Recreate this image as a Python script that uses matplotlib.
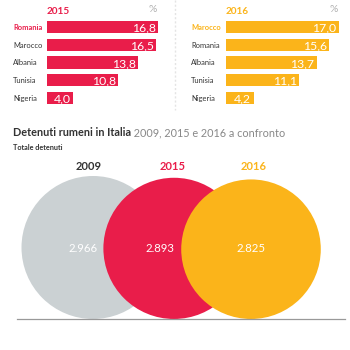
import matplotlib
matplotlib.use("Agg")
import matplotlib.pyplot as plt
from matplotlib.patches import Circle
from matplotlib.transforms import blended_transform_factory
import numpy as np

plt.rcParams['font.family'] = ['Lato', 'DejaVu Sans']

# ---- data ----
cats_2015 = ["Romania", "Marocco", "Albania", "Tunisia", "Nigeria"]
vals_2015 = [16.8, 16.5, 13.8, 10.8, 4.0]
cats_2016 = ["Marocco", "Romania", "Albania", "Tunisia", "Nigeria"]
vals_2016 = [17.0, 15.6, 13.7, 11.1, 4.2]
years = ["2009", "2015", "2016"]
totals = [2966, 2893, 2825]

RED = "#E91D4A"
YEL = "#FBB41A"
GRAY = "#CBD1D3"
DARK = "#333333"

W = H = 350
fig = plt.figure(figsize=(3.5, 3.5), dpi=100)

def fmt_it(v, dec=1):
    return f"{v:.{dec}f}".replace(".", ",")

def bar_panel(x0, label_x, cats, vals, color, title, pct_x):
    px_per_unit = 6.62
    xmax = 17.5
    top, bottom = 18.1, 106.9
    ax = fig.add_axes([x0 / W, 1 - bottom / H, xmax * px_per_unit / W, (bottom - top) / H])
    y = np.arange(len(cats))
    ax.barh(y, vals, height=0.68, color=color)
    ax.set_xlim(0, xmax)
    ax.set_ylim(len(cats) - 0.5, -0.5)
    ax.axis("off")
    for yi, v in zip(y, vals):
        ax.text(v - 0.4, yi, fmt_it(v), color="white", fontsize=8.8,
                ha="right", va="center_baseline")
    tr = blended_transform_factory(fig.transFigure, ax.transData)
    for i, c in enumerate(cats):
        ax.text(label_x / W, i, c, transform=tr, fontsize=5.4,
                color=color if i == 0 else DARK,
                fontweight="bold" if i == 0 else "normal",
                ha="left", va="center_baseline")
    fig.text(x0 / W, 1 - 11 / H, title, color=color, fontsize=7.2,
             fontweight="bold", ha="left", va="center")
    fig.text(pct_x / W, 1 - 9 / H, "%", color="#b0b0b0", fontsize=7.5,
             ha="center", va="center")

bar_panel(47, 13, cats_2015, vals_2015, RED, "2015", 153)
bar_panel(226, 191, cats_2016, vals_2016, YEL, "2016", 334)

# circles
ax = fig.add_axes([0, 0, 1, 1])
ax.set_xlim(0, W)
ax.set_ylim(H, 0)
ax.axis("off")
ax.plot([175, 175], [0, 110], color="#e4e4e4", lw=1, ls=(0, (1.5, 1.5)))

base_y = 319
k = 71.5 / np.sqrt(totals[0])
centers_x = [93, 174, 251]
text_x = [83, 160, 251]
colors = [GRAY, RED, YEL]
ycolors = [DARK, RED, YEL]
for cx, tx, v, c in zip(centers_x, text_x, totals, colors):
    r = k * np.sqrt(v)
    ax.add_patch(Circle((cx, base_y - r), r, color=c, lw=0))
    ax.text(tx, 248, f"{v:,}".replace(",", "."), color="white", fontsize=8.2,
            ha="center", va="center")
for cx, yc, yr in zip([89, 173, 254], ycolors, years):
    ax.text(cx, 166, yr, color=yc, fontsize=8, fontweight="bold",
            ha="center", va="center")

ax.plot([17, 345], [319, 319], color="#999999", lw=0.9)

# titles
t1 = ax.text(13, 133, "Detenuti rumeni in Italia", fontsize=7.8, fontweight="bold",
             color=DARK, ha="left", va="center")
ax.annotate(" 2009, 2015 e 2016 a confronto", xy=(1, 0.5), xycoords=t1,
            fontsize=7.8, color="#888888", ha="left", va="center")
ax.text(13, 148, "Totale detenuti", fontsize=5.2, fontweight="bold",
        color=DARK, ha="left", va="center")

fig.savefig("out.png", dpi=100)
